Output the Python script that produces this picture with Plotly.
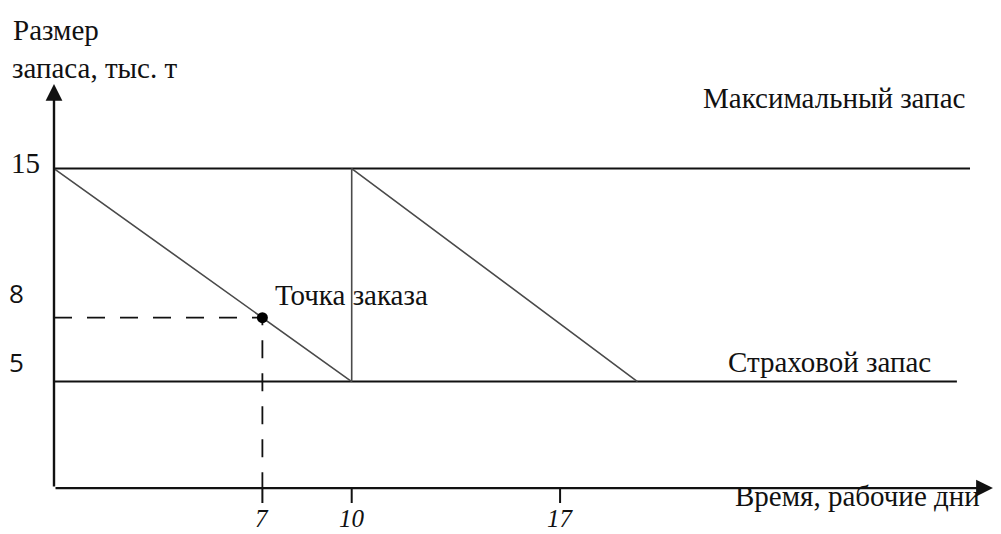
import plotly.graph_objects as go

# inventory model, thousand tonnes vs working days
cycle_days = [0, 10, 10, 19.6]
cycle_stock = [15, 5, 15, 5]
max_stock = 15
safety_stock = 5
order_point_day = 7
order_point_stock = 8
x_ticks = [7, 10, 17]
x_tick_labels = ['7', '10', '17']

SERIF = 'Liberation Serif'
SANS = 'Open Sans'
INK = '#111111'
W, H = 993, 526   # page body has an 8px margin

fig = go.Figure()

# max / safety stock levels
fig.add_trace(go.Scatter(x=[0, 30.77], y=[max_stock, max_stock], mode='lines',
                         line=dict(color=INK, width=2), hoverinfo='skip'))
fig.add_trace(go.Scatter(x=[0, 30.33], y=[safety_stock, safety_stock], mode='lines',
                         line=dict(color=INK, width=2), hoverinfo='skip'))

# sawtooth consumption
fig.add_trace(go.Scatter(x=cycle_days, y=cycle_stock, mode='lines',
                         line=dict(color='#4a4a4a', width=1.6), hoverinfo='skip'))

# dashed guides to the order point
fig.add_trace(go.Scatter(x=[0, order_point_day, order_point_day],
                         y=[order_point_stock, order_point_stock, 0],
                         mode='lines', line=dict(color=INK, width=1.8, dash='18px,15px'),
                         hoverinfo='skip'))
fig.add_trace(go.Scatter(x=[order_point_day], y=[order_point_stock], mode='markers',
                         marker=dict(color='black', size=11), hoverinfo='skip'))

# tick marks under the time axis
tx, ty = [], []
for t in x_ticks:
    tx += [t, t, None]
    ty += [0, -0.7, None]
fig.add_trace(go.Scatter(x=tx, y=ty, mode='lines', line=dict(color=INK, width=2),
                         hoverinfo='skip'))

ann = []
# axes with arrows
ann.append(dict(x=0, y=18.97, ax=0, ay=0, xref='x', yref='y', axref='x', ayref='y',
                showarrow=True, arrowhead=2, arrowsize=1.4, arrowwidth=2.4,
                arrowcolor=INK, text=''))
ann.append(dict(x=31.54, y=0, ax=0, ay=0, xref='x', yref='y', axref='x', ayref='y',
                showarrow=True, arrowhead=2, arrowsize=1.4, arrowwidth=2.4,
                arrowcolor=INK, text=''))

for t, lab in zip(x_ticks, x_tick_labels):
    ann.append(dict(x=t, y=-1.42, xref='x', yref='y', text=lab, showarrow=False,
                    font=dict(family=SERIF, size=25, color=INK, style='italic')))

ann.append(dict(x=0, y=max_stock, xref='x', yref='y', text='15', showarrow=False,
                xanchor='right', xshift=-12, yshift=6, font=dict(family=SERIF, size=29, color=INK)))
ann.append(dict(x=0, y=order_point_stock, xref='x', yref='y', text='8', showarrow=False,
                xanchor='right', xshift=-28, yshift=25, font=dict(family=SANS, size=26, color=INK)))
ann.append(dict(x=0, y=safety_stock, xref='x', yref='y', text='5', showarrow=False,
                xanchor='right', xshift=-28, yshift=20, font=dict(family=SANS, size=26, color=INK)))

def label(text, px, py, anchor='left'):
    # px, py given in page pixels
    ann.append(dict(x=(px - 8) / W, y=1 - (py - 8) / H, xref='paper', yref='paper', text=text,
                    showarrow=False, xanchor=anchor, yanchor='middle',
                    font=dict(family=SERIF, size=29, color=INK)))

label('Размер', 11, 30)
label('запаса, тыс. т', 10, 68)
label('Максимальный запас', 701, 98)
label('Страховой запас', 726, 362)
label('Точка заказа', 273, 295)
label('Время, рабочие дни', 733, 496)

fig.update_layout(
    width=W, height=H,
    margin=dict(l=0, r=0, t=0, b=0),
    paper_bgcolor='white', plot_bgcolor='white',
    showlegend=False,
    xaxis=dict(range=[-1.5452, 31.811], visible=False),
    yaxis=dict(range=[-2.155, 22.540], visible=False),
    annotations=ann,
)

fig.write_html('out.html')
